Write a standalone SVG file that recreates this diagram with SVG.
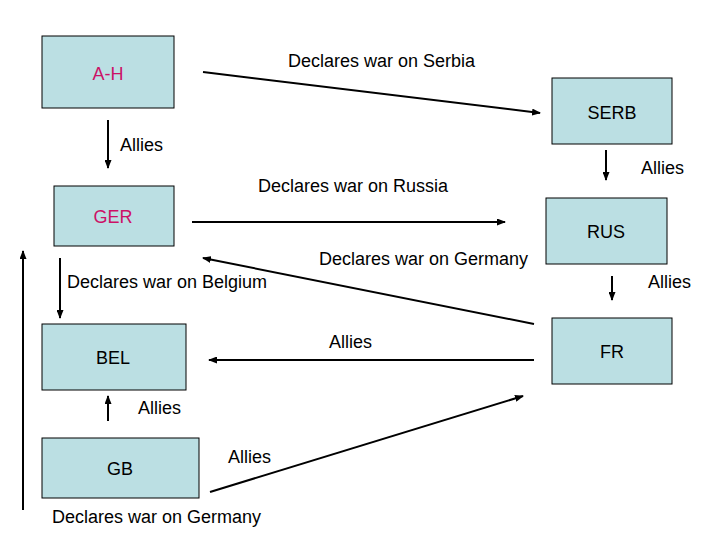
<svg xmlns="http://www.w3.org/2000/svg" width="720" height="540" viewBox="0 0 720 540">
<style>
.box{fill:#bbdfe3;stroke:#000;stroke-width:1}
.t{font-family:"Liberation Sans",Arial,sans-serif;font-size:18px;fill:#000}
.m{text-anchor:middle}
.red{fill:#cc1166}
.c{stroke:#000;stroke-width:2;fill:none;marker-end:url(#ah)}
</style>
<defs>
<marker id="ah" markerUnits="userSpaceOnUse" markerWidth="9" markerHeight="7" refX="8" refY="3.5" orient="auto">
<path d="M0,0 L9,3.5 L0,7 Z" fill="#000"/>
</marker>
</defs>
<rect width="720" height="540" fill="#fff"/>
<g id="AH"><rect class="box" x="42" y="36" width="132" height="72"/><text class="t m red" x="108" y="80">A-H</text></g>
<g id="SERB"><rect class="box" x="552" y="78" width="120" height="66"/><text class="t m" x="612" y="119">SERB</text></g>
<g id="GER"><rect class="box" x="54" y="186" width="120" height="60"/><text class="t m red" x="113" y="223">GER</text></g>
<g id="RUS"><rect class="box" x="546" y="198" width="121" height="66"/><text class="t m" x="606" y="238">RUS</text></g>
<g id="FR"><rect class="box" x="552" y="318" width="120" height="66"/><text class="t m" x="612" y="358">FR</text></g>
<g id="BEL"><rect class="box" x="42" y="324" width="144" height="66"/><text class="t m" x="113" y="364">BEL</text></g>
<g id="GB"><rect class="box" x="42" y="438" width="157" height="60"/><text class="t m" x="120" y="475">GB</text></g>
<g id="connectors">
<line class="c" x1="203" y1="72" x2="540" y2="113"/>
<line class="c" x1="108" y1="120" x2="108" y2="168"/>
<line class="c" x1="606" y1="150" x2="606" y2="180"/>
<line class="c" x1="192" y1="222" x2="505" y2="222"/>
<line class="c" x1="534" y1="324" x2="203" y2="258"/>
<line class="c" x1="60" y1="258" x2="60" y2="318"/>
<line class="c" x1="534" y1="360" x2="209" y2="360"/>
<line class="c" x1="612" y1="276" x2="612" y2="300"/>
<line class="c" x1="108" y1="421" x2="108" y2="396"/>
<line class="c" x1="210" y1="492" x2="523" y2="396"/>
<line class="c" x1="23" y1="510" x2="23" y2="251"/>
</g>
<g id="labels">
<text class="t" x="288" y="67">Declares war on Serbia</text>
<text class="t" x="120" y="151">Allies</text>
<text class="t" x="641" y="174">Allies</text>
<text class="t" x="258" y="192">Declares war on Russia</text>
<text class="t" x="319" y="265">Declares war on Germany</text>
<text class="t" x="67" y="288">Declares war on Belgium</text>
<text class="t" x="648" y="288">Allies</text>
<text class="t" x="329" y="348">Allies</text>
<text class="t" x="138" y="414">Allies</text>
<text class="t" x="228" y="463">Allies</text>
<text class="t" x="52" y="523">Declares war on Germany</text>
</g>
</svg>
